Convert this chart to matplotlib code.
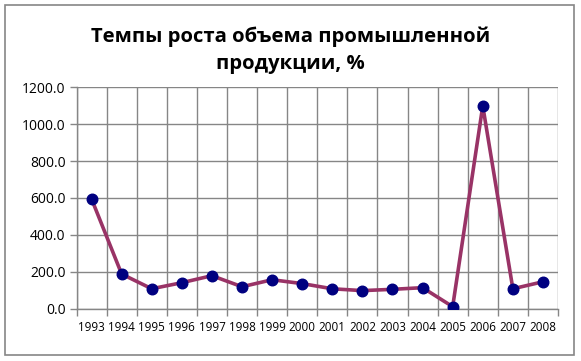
import matplotlib
matplotlib.use("Agg")
import matplotlib.pyplot as plt
from matplotlib.patches import Rectangle
import numpy as np

years = ["1993", "1994", "1995", "1996", "1997", "1998", "1999", "2000",
         "2001", "2002", "2003", "2004", "2005", "2006", "2007", "2008"]
values = [595, 188, 108, 141, 179, 119, 157, 136,
          108, 98, 105, 114, 11, 1099, 108, 146]
yticks = [0, 200, 400, 600, 800, 1000, 1200]
title = "Темпы роста объема промышленной\nпродукции, %"

W, H = 581, 361
fig = plt.figure(figsize=(W / 100, H / 100), dpi=100)
fig.patch.set_facecolor("white")

# outer chart frame
fig.patches.append(Rectangle((5 / W, 1 - 355 / H), (574 - 5) / W, (355 - 5) / H,
                             transform=fig.transFigure, fill=False,
                             edgecolor="#868686", linewidth=1.2))

left, right, top, bottom = 76.5, 558, 87.3, 308.7
ax = fig.add_axes([left / W, 1 - bottom / H, (right - left) / W, (bottom - top) / H])

x = np.arange(len(years))
ax.plot(x, values, color="#993366", linewidth=2.6, zorder=3)
ax.plot(x, values, linestyle="none", marker="o", markersize=7.6,
        markerfacecolor="#000080", markeredgecolor="#000080", zorder=4)

ax.set_xlim(-0.5, len(years) - 0.5)
ax.set_ylim(0, 1200)
ax.set_yticks(yticks)
ax.set_yticklabels([f"{v:.1f}" for v in yticks], fontsize=10, family="Open Sans")
ax.set_xticks(x)
ax.set_xticklabels(years, fontsize=8.4, family="Open Sans")
ax.set_xticks(np.arange(-0.5, len(years), 1), minor=True)
ax.tick_params(axis="x", which="major", length=0, pad=9)
ax.tick_params(axis="x", which="minor", length=5, color="#868686", width=1)
ax.tick_params(axis="y", length=5, color="#868686", width=1, pad=3)

ax.grid(True, which="minor", axis="x", color="#868686", linewidth=1)
ax.grid(True, which="major", axis="y", color="#868686", linewidth=1)
for s in ["top", "right"]:
    ax.spines[s].set_visible(False)
for s in ["left", "bottom"]:
    ax.spines[s].set_color("#868686")
    ax.spines[s].set_linewidth(1)
ax.set_axisbelow(True)

fig.text(0.5, 1 - 50 / H, title, ha="center", va="center", fontsize=14.6,
         fontweight="bold", family="Open Sans", linespacing=1.45)

fig.savefig("out.png", dpi=100, facecolor="white")
